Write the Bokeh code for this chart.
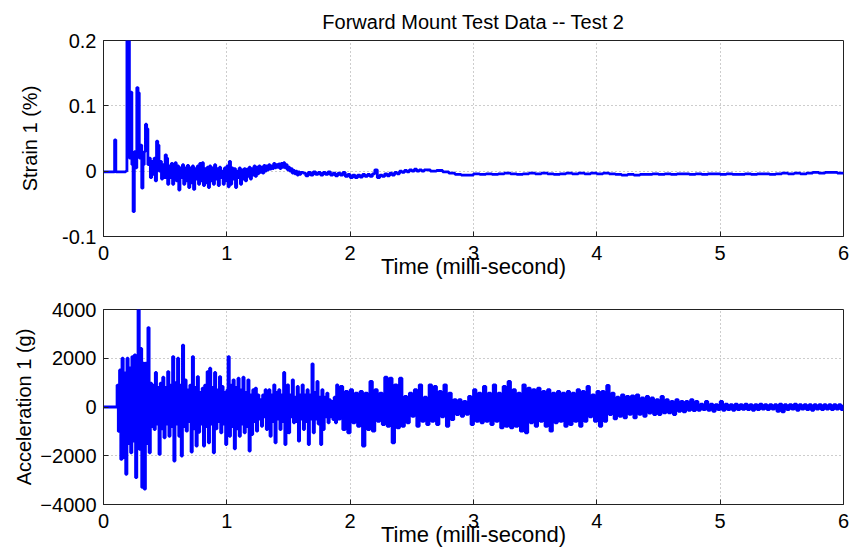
import numpy as np
from bokeh.plotting import figure
from bokeh.layouts import column
from bokeh.models import FixedTicker, Range1d
from bokeh.embed import file_html
from bokeh.resources import INLINE

# ---------------- data ----------------
title_text = "Forward Mount Test Data -- Test 2"
x_label = "Time (milli-second)"
strain_label = "Strain 1 (%)"
accel_label = "Acceleration 1 (g)"
x_ticks = [0, 1, 2, 3, 4, 5, 6]
strain_ticks = [-0.1, 0, 0.1, 0.2]
strain_tick_labels = ["-0.1", "0", "0.1", "0.2"]
accel_ticks = [-4000, -2000, 0, 2000, 4000]

# Strain 1 (%) sampled every 0.01 ms from 0.00 to 1.60
strain_early = [
    -0.001, -0.001, -0.001, -0.001, -0.001, -0.001, -0.001, -0.001, -0.001, 0.048,
    -0.001, -0.001, -0.001, -0.001, -0.001, -0.001, -0.001, -0.001, 0.000, 0.210,
    0.200, 0.020, 0.121, 0.010, -0.062, 0.030, 0.005, 0.128, 0.120, 0.020,
    0.040, -0.026, 0.010, 0.030, 0.072, 0.065, 0.010, 0.020, -0.010, 0.015,
    -0.005, 0.020, -0.015, 0.046, 0.040, 0.000, 0.015, -0.012, 0.010, -0.010,
    0.025, 0.020, -0.020, 0.008, -0.010, 0.012, -0.020, 0.005, 0.013, -0.015,
    0.008, -0.029, 0.005, -0.010, 0.010, -0.020, 0.005, -0.015, 0.009, -0.025,
    0.005, -0.018, 0.008, -0.028, 0.004, -0.012, 0.008, -0.020, 0.012, -0.015,
    0.013, -0.022, 0.004, -0.018, 0.006, -0.025, 0.008, -0.015, 0.005, -0.020,
    0.010, -0.012, 0.004, -0.022, 0.006, -0.010, 0.000, -0.020, 0.005, -0.015,
    0.008, -0.024, 0.015, -0.020, 0.005, -0.012, 0.004, -0.025, 0.000, -0.010,
    0.005, -0.020, 0.002, -0.012, 0.004, -0.015, 0.003, -0.008, 0.006, -0.012,
    0.004, -0.006, 0.008, -0.008, 0.006, -0.004, 0.008, -0.002, 0.006, -0.003,
    0.009, 0.000, 0.008, 0.002, 0.010, 0.003, 0.008, 0.004, 0.012, 0.005,
    0.010, 0.006, 0.011, 0.004, 0.012, 0.006, 0.013, 0.005, 0.010, 0.002,
    0.006, 0.000, 0.004, -0.003, 0.001, -0.004, 0.000, -0.006, -0.001, -0.005,
    -0.002,
]
# every 0.02 ms from 1.62 to 2.60
strain_mid = [
    -0.003, -0.007, -0.002, -0.006, -0.001, -0.005, -0.002, -0.006, -0.002, -0.005,
    -0.001, -0.006, -0.003, -0.007, -0.003, -0.006, -0.002, -0.008, -0.005, -0.010,
    -0.006, -0.010, -0.006, -0.009, -0.005, -0.008, -0.005, -0.008, -0.004, 0.002,
    -0.010, -0.006, -0.008, -0.004, -0.007, -0.003, -0.006, -0.002, -0.004, 0.000,
    -0.002, 0.001, -0.001, 0.002, 0.000, 0.003, 0.000, 0.002, 0.000, 0.002,
]
# every 0.05 ms from 2.65 to 6.00
strain_late = [
    0.000, 0.001, -0.001, -0.003, -0.005, -0.006, -0.006, -0.004, -0.005, -0.004,
    -0.005, -0.004, -0.003, -0.004, -0.005, -0.004, -0.003, -0.004, -0.003, -0.004,
    -0.005, -0.004, -0.003, -0.004, -0.003, -0.004, -0.003, -0.004, -0.003, -0.004,
    -0.005, -0.006, -0.005, -0.006, -0.005, -0.005, -0.004, -0.005, -0.004, -0.005,
    -0.004, -0.004, -0.005, -0.004, -0.005, -0.004, -0.004, -0.005, -0.004, -0.005,
    -0.005, -0.004, -0.005, -0.004, -0.004, -0.005, -0.004, -0.003, -0.004, -0.003,
    -0.004, -0.003, -0.002, -0.003, -0.002, -0.002, -0.003, -0.002,
]

# Acceleration 1 (g): quiet 0 .. 0.105 ms, then every 0.01 ms from 0.11 to 1.90
accel_quiet_t = [0.0, 0.105]
accel_quiet = [0, 0]
accel_early = [
    900, -1000, 1520, -2150, 2000, -2080, 1400, -2760, 2000, -1500,
    1600, -1880, 2070, -1400, 2140, -2900, 1500, 4000, -1740, 2400,
    -3300, 1800, -3370, 1800, -1500, 3260, -1880, 980, -800, 900,
    -925, 1415, -700, 800, -1945, 980, -900, 1220, -1265, 800,
    -700, 1455, -1200, 900, -800, 2070, -2220, 1000, -700, 2000,
    -1200, 900, -2010, 2540, -800, 1115, -990, 700, -600, 900,
    -1850, 2070, -900, 800, -1600, 1250, -1035, 600, -700, 775,
    -1600, 900, -800, 1455, -1470, 1590, -700, 800, -1880, 1415,
    -900, 700, -600, 1250, -1060, 845, -700, 600, -1540, 700,
    2070, -1200, 900, -800, 1115, -1715, 800, -900, 1180, -1200,
    700, -700, 1220, -1060, 600, -800, 1115, -1810, 500, -1130,
    710, -600, 775, -990, 500, -500, 300, -790, 500, -400,
    710, -925, -500, 710, -1200, 500, -600, 910, -1470, 600,
    -500, 710, -925, 500, -600, 1415, -1540, -500, 910, -1060,
    500, -400, 1115, -650, 400, -600, 845, -1400, 500, -500,
    910, -925, 500, -600, 710, -1540, 500, -500, 1770, -1060,
    600, -500, 1050, -700, 400, -1540, 710, -925, 400, -400,
    570, -650, 300, -400, 230, -520, 400, -650, 910, -500,
]
# every 0.02 ms from 1.92 to 6.00
accel_late = [
    845, -925, 640, -1060, 710, -650, 570, -790, 640, -1600,
    570, -925, 1050, -990, 710, -585, 570, -720, 1220, -790,
    1180, -1470, 910, -860, 1180, -790, 435, -650, 570, -380,
    710, -790, 910, -585, 400, -720, 910, -585, 845, -720,
    640, -400, 910, -790, 570, -520, 300, -310, 300, -380,
    230, -300, 435, -720, 710, -585, 570, -650, 845, -585,
    570, -720, 910, -585, 570, -860, 845, -790, 1050, -860,
    710, -790, 570, -990, 910, -1060, 775, -650, 710, -790,
    775, -585, 640, -790, 710, -990, 570, -650, 640, -585,
    570, -790, 640, -720, 570, -585, 710, -790, 640, -585,
    845, -400, 500, -585, 640, -790, 640, -585, 885, -310,
    570, -490, 400, -380, 500, -450, 435, -300, 460, -450,
    500, -300, 370, -380, 435, -250, 370, -310, 300, -310,
    435, -245, 300, -245, 230, -310, 300, -175, 230, -200,
    230, -135, 300, -150, 230, -135, 120, -110, 230, -135,
    120, -175, 100, -110, 230, -135, 120, -110, 95, -135,
    120, -110, 95, -100, 120, -110, 95, -135, 100, -110,
    120, -90, 95, -110, 100, -90, 95, -175, 120, -200,
    95, -110, 100, -90, 120, -135, 95, -90, 100, -110,
    95, -135, 95, -90, 100, -110, 95, -90, 95, -110,
    100, -90, 95, -110, 90,
]

# sampling grids (time in ms)
strain_t = np.concatenate([
    0.00 + 0.01 * np.arange(len(strain_early)),
    1.62 + 0.02 * np.arange(len(strain_mid)),
    2.65 + 0.05 * np.arange(len(strain_late)),
])
strain_v = np.array(strain_early + strain_mid + strain_late)
accel_t = np.concatenate([
    np.array(accel_quiet_t),
    0.11 + 0.01 * np.arange(len(accel_early)),
    1.92 + 0.02 * np.arange(len(accel_late)),
])
accel_v = np.array(accel_quiet + accel_early + accel_late)

# ---------------- styling ----------------
FONT = "Liberation Sans"
BLUE = "#0000ff"


def style(p, yticks, left_standoff, overrides=None):
    p.background_fill_color = "white"
    p.border_fill_color = "white"
    p.outline_line_color = "#222222"
    p.outline_line_width = 1
    for ax in p.xaxis + p.yaxis:
        ax.major_tick_in = 5
        ax.major_tick_out = 0
        ax.minor_tick_in = 0
        ax.minor_tick_out = 0
        ax.axis_line_color = "#222222"
        ax.major_tick_line_color = "#222222"
        ax.major_label_text_font = FONT
        ax.major_label_text_font_size = "20px"
        ax.major_label_text_color = "black"
        ax.axis_label_text_font = FONT
        ax.axis_label_text_font_style = "normal"
        ax.axis_label_text_color = "black"
    p.xaxis.ticker = FixedTicker(ticks=x_ticks)
    p.yaxis.ticker = FixedTicker(ticks=yticks)
    p.xaxis.axis_label = x_label
    p.xaxis.axis_label_text_font_size = "22px"
    p.xaxis.major_label_standoff = 9
    p.xaxis.axis_label_standoff = -9
    p.yaxis.axis_label_text_font_size = "20px"
    p.yaxis.major_label_standoff = 7
    p.yaxis.axis_label_standoff = left_standoff
    if overrides:
        p.yaxis.major_label_overrides = overrides
    for g in (p.xgrid[0], p.ygrid[0]):
        g.grid_line_color = "#9a9a9a"
        g.grid_line_dash = "1 3"
        g.grid_line_width = 1


p1 = figure(width=852, height=286, output_backend="svg", toolbar_location=None,
            x_range=Range1d(0, 6), y_range=Range1d(-0.1, 0.2),
            min_border_left=103, min_border_right=9, min_border_top=40,
            min_border_bottom=50)
p1.title.text = title_text
p1.title.align = "center"
p1.title.text_font = FONT
p1.title.text_font_size = "20px"
p1.title.text_font_style = "normal"
p1.title.text_color = "black"
p1.title.standoff = 15
p1.step(strain_t, strain_v, mode="after", line_color=BLUE, line_width=2.8)
style(p1, strain_ticks, 18, dict(zip(strain_ticks, strain_tick_labels)))
p1.yaxis[0].axis_label = strain_label

p2 = figure(width=852, height=267, output_backend="svg", toolbar_location=None,
            x_range=Range1d(0, 6), y_range=Range1d(-4000, 4000),
            min_border_left=103, min_border_right=9, min_border_top=23,
            min_border_bottom=49)
p2.step(accel_t, accel_v, mode="after", line_color=BLUE, line_width=2.8)
style(p2, accel_ticks, 2)
p2.yaxis[0].axis_label = accel_label

layout = column(p1, p2, spacing=0)
open("out.html", "w").write(file_html(layout, INLINE))
